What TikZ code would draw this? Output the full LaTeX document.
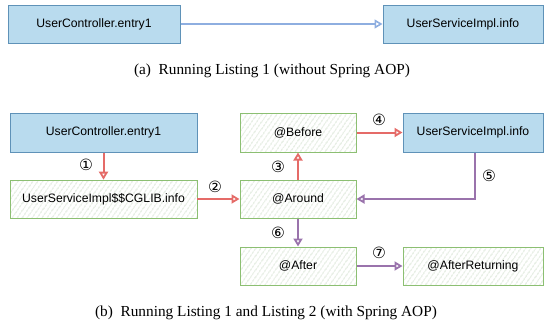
\documentclass[tikz,border=0pt]{standalone}
\usepackage{fontspec}
\setmainfont{Liberation Serif}
\setsansfont{Liberation Sans}
\newfontfamily\circfont{DejaVu Sans}
\usetikzlibrary{arrows.meta,patterns.meta}
\definecolor{bluefill}{HTML}{B9DBEE}
\definecolor{bluedraw}{HTML}{5F92B8}
\definecolor{greendraw}{HTML}{8CBF72}
\definecolor{hatchcol}{HTML}{C2D4BC}
\definecolor{redarr}{HTML}{E56B68}
\definecolor{purparr}{HTML}{9A73AC}
\definecolor{toparr}{HTML}{8EAEE0}
\tikzset{
  bluebox/.style={draw=bluedraw, fill=bluefill, line width=1pt, inner sep=0pt,
    font=\sffamily\fontsize{12.2}{14}\selectfont},
  hatchbox/.style={draw=greendraw, line width=1pt, inner sep=0pt,
    pattern={Lines[angle=55, distance=4pt, line width=0.55pt]}, pattern color=hatchcol,
    font=\sffamily\fontsize{12.2}{14}\selectfont},
  redflow/.style={draw=redarr, line width=2pt, -{Triangle[open, length=8pt, width=9pt, line width=1.8pt]}},
  purpflow/.style={draw=purparr, line width=2pt, -{Triangle[open, length=8pt, width=9pt, line width=1.8pt]}},
  topflow/.style={draw=toparr, line width=1.6pt, -{Triangle[open, length=8pt, width=9pt, line width=1.6pt]}},
  steplabel/.style={font=\circfont\fontsize{15.5}{17}\selectfont, inner sep=0pt},
  captext/.style={font=\fontsize{15.3}{18}\selectfont, inner sep=0pt}
}
\begin{document}
\begin{tikzpicture}[x=1pt, y=-1pt]
\useasboundingbox (0,0) rectangle (544,330);
% (a)
\node[bluebox, minimum width=172pt, minimum height=38pt] (a1) at (94,24) {UserController.entry1};
\node[bluebox, minimum width=160pt, minimum height=38pt] (a2) at (463,24) {UserServiceImpl.info};
\draw[topflow] (a1.east) -- (a2.west);
\node[captext] (capa) at (272,71) {(a)\enspace Running Listing 1 (without Spring AOP)};
% (b)
\node[bluebox, minimum width=187pt, minimum height=39pt] (uc) at (103.5,132.5) {UserController.entry1};
\node[hatchbox, minimum width=187pt, minimum height=38pt] (cg) at (103.5,199) {UserServiceImpl\$\$CGLIB.info};
\node[hatchbox, minimum width=116pt, minimum height=39pt] (bef) at (298,132.5) {@Before};
\node[bluebox, minimum width=140pt, minimum height=39pt] (svc) at (473,132.5) {UserServiceImpl.info};
\node[hatchbox, minimum width=116pt, minimum height=38pt] (aro) at (298,199) {@Around};
\node[hatchbox, minimum width=116pt, minimum height=38pt] (aft) at (298,266) {@After};
\node[hatchbox, minimum width=140pt, minimum height=38pt] (ret) at (473,266) {@AfterReturning};
\draw[redflow] (uc.south) -- (cg.north);
\draw[redflow] (cg.east) -- (aro.west);
\draw[redflow] (aro.north) -- (bef.south);
\draw[redflow] (bef.east) -- (svc.west);
\draw[purpflow] ([xshift=2pt]svc.south) |- (aro.east);
\draw[purpflow] (aro.south) -- (aft.north);
\draw[purpflow] (aft.east) -- (ret.west);
\node[steplabel] (l1) at (86,165) {①};
\node[steplabel] (l2) at (215,187) {②};
\node[steplabel] (l3) at (278,167) {③};
\node[steplabel] (l4) at (379,120) {④};
\node[steplabel] (l5) at (489,176) {⑤};
\node[steplabel] (l6) at (278,233) {⑥};
\node[steplabel] (l7) at (379,253) {⑦};
\node[captext] (capb) at (266,313) {(b)\enspace Running Listing 1 and Listing 2 (with Spring AOP)};
\end{tikzpicture}
\end{document}
